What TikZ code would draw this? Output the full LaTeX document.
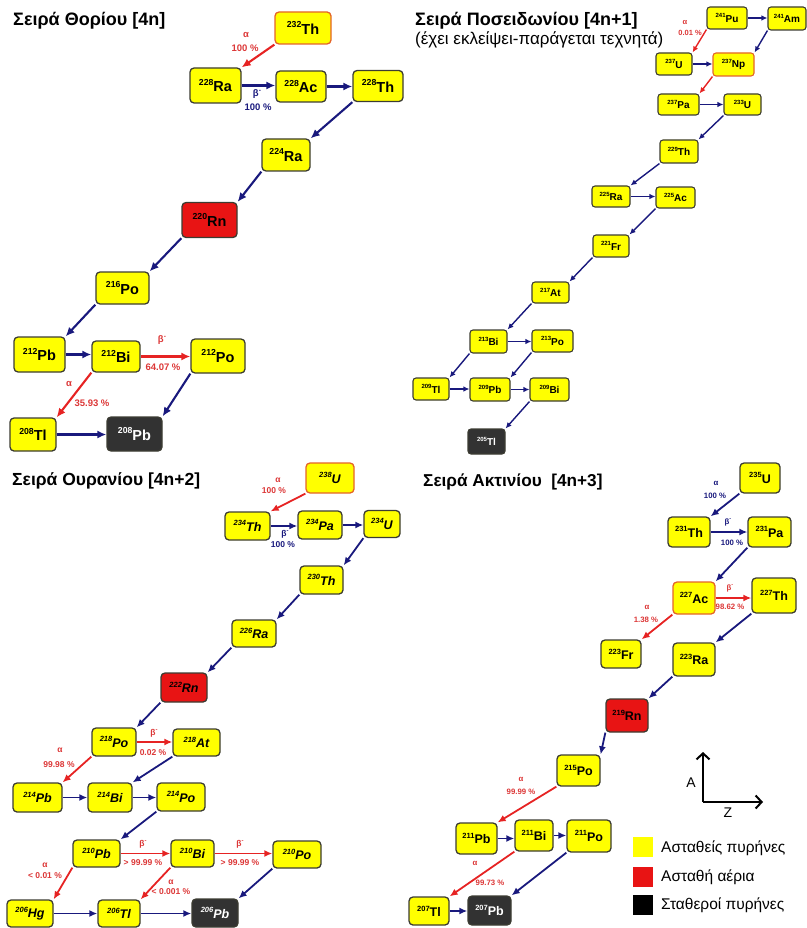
\documentclass[tikz,border=0pt]{standalone}
\usepackage{fontspec}
\setmainfont{Liberation Sans}
\usepackage{graphicx}
\usetikzlibrary{arrows.meta}
\definecolor{nucyel}{RGB}{255,255,0}
\definecolor{nucedge}{RGB}{60,60,50}
\definecolor{hotedge}{RGB}{228,100,40}
\definecolor{gasred}{RGB}{232,20,20}
\definecolor{stabgray}{RGB}{50,50,50}
\definecolor{navyarr}{RGB}{25,25,125}
\definecolor{redarr}{RGB}{230,35,35}
\definecolor{redlab}{RGB}{220,55,55}
\newcommand\nuc[2]{\raisebox{0.42em}{\scalebox{0.6}{#1}}#2}
\newcommand\betam{β\raisebox{0.45em}{\scalebox{0.7}{-}}}
\tikzset{
  nb/.style={draw=nucedge, line width=1.3pt, rounded corners=4pt, fill=nucyel, inner sep=0pt, text=black},
  gas/.style={fill=gasred},
  stab/.style={fill=stabgray, text=white},
  hot/.style={draw=hotedge},
  sth/.style={font=\bfseries\fontsize{14.5}{14.5}\selectfont},
  snp/.style={font=\bfseries\fontsize{10}{10}\selectfont, line width=1.1pt, rounded corners=3pt},
  sur/.style={font=\bfseries\itshape\fontsize{12.5}{12.5}\selectfont},
  sac/.style={font=\bfseries\fontsize{12.5}{12.5}\selectfont},
  ba/.style={draw=navyarr, line width=2.1pt, -{Latex[length=9pt,width=8pt]}},
  ra/.style={ba, draw=redarr},
  bm/.style={draw=navyarr, line width=1.8pt, -{Latex[length=8pt,width=7pt]}},
  rm/.style={bm, draw=redarr},
  bs/.style={draw=navyarr, line width=1.4pt, -{Latex[length=6pt,width=5.5pt]}},
  rs/.style={bs, draw=redarr},
  lr/.style={text=redlab, inner sep=0pt, font=\bfseries\fontsize{#1}{#1}\selectfont},
  lb/.style={text=navyarr, inner sep=0pt, font=\bfseries\fontsize{#1}{#1}\selectfont},
  ttl/.style={anchor=west, inner sep=0pt, font=\bfseries\fontsize{#1}{#1}\selectfont},
  axis/.style={line width=2pt, -{Straight Barb[length=6pt,width=13pt]}},
  legsq/.style={minimum size=20pt, inner sep=0pt},
  legtx/.style={anchor=west, inner sep=0pt, font=\fontsize{15.5}{15.5}\selectfont}
}
\begin{document}
\begin{tikzpicture}[x=1pt,y=-1pt]
\useasboundingbox (0,0) rectangle (806,928);

% ---------------- Thorium series
\node[ttl=18] (t1) at (13,21) {Σειρά Θορίου [4n]};
\node[nb,sth,hot,minimum width=56,minimum height=32] (th232) at (303,28) {\nuc{232}{Th}};
\node[nb,sth,minimum width=51,minimum height=35] (ra228) at (215.5,85.5) {\nuc{228}{Ra}};
\node[nb,sth,minimum width=50,minimum height=31] (ac228) at (301,86.5) {\nuc{228}{Ac}};
\node[nb,sth,minimum width=50,minimum height=31] (th228) at (378,86) {\nuc{228}{Th}};
\node[nb,sth,minimum width=48,minimum height=32] (ra224) at (286,155) {\nuc{224}{Ra}};
\node[nb,sth,gas,minimum width=55,minimum height=35] (rn220) at (209.5,220) {\nuc{220}{Rn}};
\node[nb,sth,minimum width=53,minimum height=32] (po216) at (122.5,288) {\nuc{216}{Po}};
\node[nb,sth,minimum width=51,minimum height=35] (pb212) at (39.5,354.5) {\nuc{212}{Pb}};
\node[nb,sth,minimum width=48,minimum height=31] (bi212) at (116,356.5) {\nuc{212}{Bi}};
\node[nb,sth,minimum width=54,minimum height=34] (po212) at (218,356) {\nuc{212}{Po}};
\node[nb,sth,minimum width=46,minimum height=33] (tl208) at (33,434.5) {\nuc{208}{Tl}};
\node[nb,sth,stab,minimum width=55,minimum height=34] (pb208) at (134.5,434) {\nuc{208}{Pb}};

\draw[ra] (th232.south west) -- (ra228.north east);
\draw[ba] (ra228.east) -- (ra228.east -| ac228.west);
\draw[ba] (ac228.east) -- (ac228.east -| th228.west);
\draw[ba] (th228.south west) -- (ra224.north east);
\draw[ba] (ra224.south west) -- (rn220.north east);
\draw[ba] (rn220.south west) -- (po216.north east);
\draw[ba] (po216.south west) -- (pb212.north east);
\draw[ba] (pb212.east) -- (pb212.east -| bi212.west);
\draw[ra] (bi212.east) -- (bi212.east -| po212.west);
\draw[ra] (bi212.south west) -- (tl208.north east);
\draw[ba] (po212.south west) -- (pb208.north east);
\draw[ba] (tl208.east) -- (tl208.east -| pb208.west);

\node[lr=9.5] (a1) at (246,35) {α};
\node[lr=9.5] (a2) at (245,48) {100 \%};
\node[lb=9.5] (a3) at (257,94) {\betam};
\node[lb=9.5] (a4) at (258,107) {100 \%};
\node[lr=9.5] (a5) at (162,340) {\betam};
\node[lr=9.5] (a6) at (163,367) {64.07 \%};
\node[lr=9.5] (a7) at (69,384) {α};
\node[lr=9.5] (a8) at (92,403) {35.93 \%};

% ---------------- Neptunium series
\node[ttl=18] (t2) at (415,21) {Σειρά Ποσειδωνίου [4n+1]};
\node[anchor=west, inner sep=0pt, font=\fontsize{17}{17}\selectfont] (t2b) at (415,40) {(έχει εκλείψει-παράγεται τεχνητά)};
\node[nb,snp,minimum width=40,minimum height=22] (pu241) at (727,18) {\nuc{241}{Pu}};
\node[nb,snp,minimum width=38,minimum height=23] (am241) at (787,18.5) {\nuc{241}{Am}};
\node[nb,snp,minimum width=36,minimum height=22] (u237) at (674,64) {\nuc{237}{U}};
\node[nb,snp,hot,minimum width=41,minimum height=23] (np237) at (733.5,64.5) {\nuc{237}{Np}};
\node[nb,snp,minimum width=41,minimum height=21] (pa237) at (678.5,104.5) {\nuc{237}{Pa}};
\node[nb,snp,minimum width=37,minimum height=21] (u233) at (742.5,104.5) {\nuc{233}{U}};
\node[nb,snp,minimum width=38,minimum height=23] (th229) at (679,151.5) {\nuc{229}{Th}};
\node[nb,snp,minimum width=38,minimum height=21] (ra225) at (611,196.5) {\nuc{225}{Ra}};
\node[nb,snp,minimum width=39,minimum height=21] (ac225) at (675.5,197.5) {\nuc{225}{Ac}};
\node[nb,snp,minimum width=36,minimum height=22] (fr221) at (611,246) {\nuc{221}{Fr}};
\node[nb,snp,minimum width=37,minimum height=21] (at217) at (550.5,292.5) {\nuc{217}{At}};
\node[nb,snp,minimum width=37,minimum height=23] (bi213) at (488.5,341.5) {\nuc{213}{Bi}};
\node[nb,snp,minimum width=41,minimum height=22] (po213) at (552.5,341) {\nuc{213}{Po}};
\node[nb,snp,minimum width=36,minimum height=22] (tl209) at (431,389) {\nuc{209}{Tl}};
\node[nb,snp,minimum width=40,minimum height=23] (pb209) at (490,389.5) {\nuc{209}{Pb}};
\node[nb,snp,minimum width=39,minimum height=23] (bi209) at (549.5,389.5) {\nuc{209}{Bi}};
\node[nb,snp,stab,minimum width=37,minimum height=25] (tl205) at (486.5,441.5) {\nuc{205}{Tl}};

\draw[rs] (pu241.south west) -- (u237.north east);
\draw[bs] (pu241.east) -- (pu241.east -| am241.west);
\draw[bs] (am241.south west) -- (np237.north east);
\draw[bs] (u237.east) -- (u237.east -| np237.west);
\draw[rs] (np237.south west) -- (pa237.north east);
\draw[bs] (pa237.east) -- (pa237.east -| u233.west);
\draw[bs] (u233.south west) -- (th229.north east);
\draw[bs] (th229.south west) -- (ra225.north east);
\draw[bs] (ra225.east) -- (ra225.east -| ac225.west);
\draw[bs] (ac225.south west) -- (fr221.north east);
\draw[bs] (fr221.south west) -- (at217.north east);
\draw[bs] (at217.south west) -- (bi213.north east);
\draw[bs] (bi213.east) -- (bi213.east -| po213.west);
\draw[bs] (bi213.south west) -- (tl209.north east);
\draw[bs] (po213.south west) -- (pb209.north east);
\draw[bs] (tl209.east) -- (tl209.east -| pb209.west);
\draw[bs] (pb209.east) -- (pb209.east -| bi209.west);
\draw[bs] (bi209.south west) -- (tl205.north east);

\node[lr=7.5] (b1) at (685,23) {α};
\node[lr=7.5] (b2) at (690,33) {0.01 \%};

% ---------------- Uranium series
\node[ttl=17.5] (t3) at (12,481) {Σειρά Ουρανίου [4n+2]};
\node[nb,sur,hot,minimum width=48,minimum height=30] (u238) at (330,478) {\nuc{238}{U}};
\node[nb,sur,minimum width=45,minimum height=28] (th234) at (247.5,526) {\nuc{234}{Th}};
\node[nb,sur,minimum width=44,minimum height=28] (pa234) at (320,525) {\nuc{234}{Pa}};
\node[nb,sur,minimum width=36,minimum height=27] (u234) at (382,524) {\nuc{234}{U}};
\node[nb,sur,minimum width=43,minimum height=28] (th230) at (321.5,580) {\nuc{230}{Th}};
\node[nb,sur,minimum width=44,minimum height=27] (ra226) at (254,633.5) {\nuc{226}{Ra}};
\node[nb,sur,gas,minimum width=46,minimum height=29] (rn222) at (184,687.5) {\nuc{222}{Rn}};
\node[nb,sur,minimum width=44,minimum height=28] (po218) at (114,742) {\nuc{218}{Po}};
\node[nb,sur,minimum width=47,minimum height=27] (at218) at (196.5,742.5) {\nuc{218}{At}};
\node[nb,sur,minimum width=49,minimum height=29] (pb214) at (37.5,797.5) {\nuc{214}{Pb}};
\node[nb,sur,minimum width=44,minimum height=29] (bi214) at (110,797.5) {\nuc{214}{Bi}};
\node[nb,sur,minimum width=48,minimum height=28] (po214) at (181,797) {\nuc{214}{Po}};
\node[nb,sur,minimum width=47,minimum height=27] (pb210) at (96.5,853.5) {\nuc{210}{Pb}};
\node[nb,sur,minimum width=43,minimum height=27] (bi210) at (192.5,853.5) {\nuc{210}{Bi}};
\node[nb,sur,minimum width=48,minimum height=27] (po210) at (297,854.5) {\nuc{210}{Po}};
\node[nb,sur,minimum width=46,minimum height=27] (hg206) at (30,913.5) {\nuc{206}{Hg}};
\node[nb,sur,minimum width=42,minimum height=27] (tl206) at (119,913.5) {\nuc{206}{Tl}};
\node[nb,sur,stab,minimum width=46,minimum height=28] (pb206) at (215,913) {\nuc{206}{Pb}};

\draw[rm] (u238.south west) -- (th234.north east);
\draw[bm] (th234.east) -- (th234.east -| pa234.west);
\draw[bm] (pa234.east) -- (pa234.east -| u234.west);
\draw[bm] (u234.south west) -- (th230.north east);
\draw[bm] (th230.south west) -- (ra226.north east);
\draw[bm] (ra226.south west) -- (rn222.north east);
\draw[bm] (rn222.south west) -- (po218.north east);
\draw[rm] (po218.east) -- (po218.east -| at218.west);
\draw[rm] (po218.south west) -- (pb214.north east);
\draw[bm] (at218.south west) -- (bi214.north east);
\draw[bm] (pb214.east) -- (pb214.east -| bi214.west);
\draw[bm] (bi214.east) -- (bi214.east -| po214.west);
\draw[bm] (po214.south west) -- (pb210.north east);
\draw[rm] (pb210.east) -- (pb210.east -| bi210.west);
\draw[rm] (bi210.east) -- (bi210.east -| po210.west);
\draw[rm] (pb210.south west) -- (hg206.north east);
\draw[rm] (bi210.south west) -- (tl206.north east);
\draw[bm] (po210.south west) -- (pb206.north east);
\draw[bm] (hg206.east) -- (hg206.east -| tl206.west);
\draw[bm] (tl206.east) -- (tl206.east -| pb206.west);

\node[lr=8.5] (c1) at (278,480) {α};
\node[lr=8.5] (c2) at (274,491) {100 \%};
\node[lb=8.5] (c3) at (285,534) {\betam};
\node[lb=8.5] (c4) at (283,545) {100 \%};
\node[lr=8.5] (c5) at (154,733) {\betam};
\node[lr=8.5] (c6) at (153,753) {0.02 \%};
\node[lr=8.5] (c7) at (60,750) {α};
\node[lr=8.5] (c8) at (59,765) {99.98 \%};
\node[lr=8.5] (c9) at (143,844) {\betam};
\node[lr=8.5] (c10) at (143,863) {> 99.99 \%};
\node[lr=8.5] (c11) at (240,844) {\betam};
\node[lr=8.5] (c12) at (240,863) {> 99.99 \%};
\node[lr=8.5] (c13) at (45,865) {α};
\node[lr=8.5] (c14) at (45,876) {< 0.01 \%};
\node[lr=8.5] (c15) at (171,882) {α};
\node[lr=8.5] (c16) at (171,892) {< 0.001 \%};

% ---------------- Actinium series
\node[ttl=17.2] (t4) at (423,482) {Σειρά Ακτινίου\ \ [4n+3]};
\node[nb,sac,minimum width=40,minimum height=30] (u235) at (760,478) {\nuc{235}{U}};
\node[nb,sac,minimum width=42,minimum height=30] (th231) at (689,532) {\nuc{231}{Th}};
\node[nb,sac,minimum width=43,minimum height=30] (pa231) at (769.5,532) {\nuc{231}{Pa}};
\node[nb,sac,hot,minimum width=42,minimum height=32] (ac227) at (694,598) {\nuc{227}{Ac}};
\node[nb,sac,minimum width=44,minimum height=35] (th227) at (774,595.5) {\nuc{227}{Th}};
\node[nb,sac,minimum width=40,minimum height=28] (fr223) at (621,654) {\nuc{223}{Fr}};
\node[nb,sac,minimum width=42,minimum height=33] (ra223) at (694,659.5) {\nuc{223}{Ra}};
\node[nb,sac,gas,minimum width=42,minimum height=33] (rn219) at (627,715.5) {\nuc{219}{Rn}};
\node[nb,sac,minimum width=43,minimum height=31] (po215) at (578.5,770.5) {\nuc{215}{Po}};
\node[nb,sac,minimum width=41,minimum height=31] (pb211) at (476.5,838.5) {\nuc{211}{Pb}};
\node[nb,sac,minimum width=38,minimum height=31] (bi211) at (534,835.5) {\nuc{211}{Bi}};
\node[nb,sac,minimum width=44,minimum height=32] (po211) at (589,836) {\nuc{211}{Po}};
\node[nb,sac,minimum width=40,minimum height=28] (tl207) at (429,911) {\nuc{207}{Tl}};
\node[nb,sac,stab,minimum width=43,minimum height=29] (pb207) at (489.5,910.5) {\nuc{207}{Pb}};

\draw[bm] (u235.south west) -- (th231.north east);
\draw[bm] (th231.east) -- (th231.east -| pa231.west);
\draw[bm] (pa231.south west) -- (ac227.north east);
\draw[rm] (ac227.east) -- (ac227.east -| th227.west);
\draw[rm] (ac227.south west) -- (fr223.north east);
\draw[bm] (th227.south west) -- (ra223.north east);
\draw[bm] (ra223.south west) -- (rn219.north east);
\draw[bm] (rn219.south west) -- (po215.north east);
\draw[rm] (po215.south west) -- (pb211.north east);
\draw[bm] (pb211.east) -- (pb211.east -| bi211.west);
\draw[bm] (bi211.east) -- (bi211.east -| po211.west);
\draw[rm] (bi211.south west) -- (tl207.north east);
\draw[bm] (po211.south west) -- (pb207.north east);
\draw[bm] (tl207.east) -- (tl207.east -| pb207.west);

\node[lb=7.8] (d1) at (716,483) {α};
\node[lb=7.8] (d2) at (715,496) {100 \%};
\node[lb=7.8] (d3) at (728,522) {\betam};
\node[lb=7.8] (d4) at (732,543) {100 \%};
\node[lr=7.8] (d5) at (730,588) {\betam};
\node[lr=7.8] (d6) at (730,607) {98.62 \%};
\node[lr=7.8] (d7) at (647,607) {α};
\node[lr=7.8] (d8) at (646,620) {1.38 \%};
\node[lr=7.8] (d9) at (521,779) {α};
\node[lr=7.8] (d10) at (521,792) {99.99 \%};
\node[lr=7.8] (d11) at (475,863) {α};
\node[lr=7.8] (d12) at (490,883) {99.73 \%};

% ---------------- axes
\coordinate (ax0) at (703,802);
\coordinate (axA) at (703,752);
\coordinate (axZ) at (763,802);
\draw[axis] (ax0) -- (axA);
\draw[axis] (ax0) -- (axZ);
\node[inner sep=0pt, font=\fontsize{14}{14}\selectfont] (labA) at (691,783) {A};
\node[inner sep=0pt, font=\fontsize{14}{14}\selectfont] (labZ) at (728,813) {Z};

% ---------------- legend
\node[legsq, fill=nucyel] (lg1) at (643,847) {};
\node[legsq, fill=gasred] (lg2) at (643,877) {};
\node[legsq, fill=black] (lg3) at (643,905) {};
\node[legtx] (lt1) at (661,848) {Ασταθείς πυρήνες};
\node[legtx] (lt2) at (661,877) {Ασταθή αέρια};
\node[legtx] (lt3) at (661,905) {Σταθεροί πυρήνες};
\end{tikzpicture}
\end{document}
